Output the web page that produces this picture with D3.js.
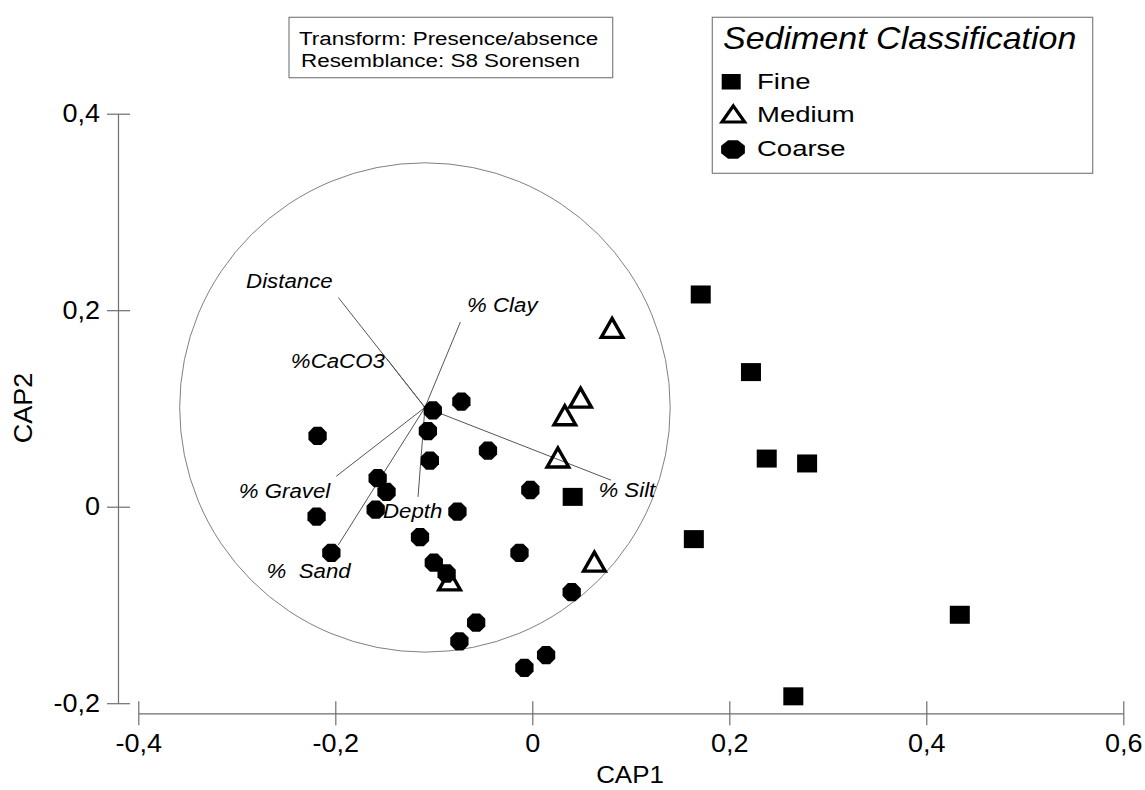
<!DOCTYPE html>
<html>
<head>
<meta charset="utf-8">
<script src="https://cdn.jsdelivr.net/npm/d3@7"></script>
<style>
  body { margin: 0; background: #ffffff; }
  svg { display: block; font-family: "Liberation Sans", Arial, sans-serif; }
</style>
</head>
<body>
<div id="chart"></div>
<script>
// ticks
const xTicks = [-0.4, -0.2, 0, 0.2, 0.4, 0.6];
const yTicks = [-0.2, 0, 0.2, 0.4];

// CAP1, CAP2 scores by sediment class
const fine = [
  [0.171, 0.216], [0.222, 0.137], [0.238, 0.049], [0.279, 0.044],
  [0.041, 0.010], [0.164, -0.033], [0.434, -0.110], [0.265, -0.193]
];
const medium = [
  [0.081, 0.179], [0.049, 0.108], [0.033, 0.090], [0.026, 0.047],
  [0.063, -0.059], [-0.084, -0.078]
];
const coarse = [
  [-0.072, 0.107], [-0.101, 0.098], [-0.106, 0.077], [-0.218, 0.072],
  [-0.045, 0.057], [-0.104, 0.047], [-0.157, 0.029], [-0.148, 0.015],
  [-0.002, 0.017], [-0.159, -0.003], [-0.219, -0.010], [-0.076, -0.005],
  [-0.114, -0.031], [-0.204, -0.047], [-0.013, -0.047], [-0.100, -0.057],
  [-0.087, -0.068], [0.040, -0.087], [-0.057, -0.118], [-0.074, -0.137],
  [0.014, -0.151], [-0.008, -0.164]
];

// environmental vectors (drawn from the circle centre)
const vecOrigin = [-0.109, 0.101];
const circleRadius = 0.249;
const vecNames = ['Distance', '% Clay', '%CaCO3', '% Silt', '% Gravel', '%  Sand', 'Depth'];
const vecEnds = [
  [-0.197, 0.213], [-0.073, 0.188], [-0.148, 0.151], [0.080, 0.027],
  [-0.199, 0.031], [-0.197, -0.039], [-0.116, 0.010]
];

const legendTitle = 'Sediment Classification';
const legendLabels = ['Fine', 'Medium', 'Coarse'];
const infoLines = ['Transform: Presence/absence', 'Resemblance: S8 Sorensen'];

const width = 1145, height = 790;
const axisColor = '#6e6e6e';

const svg = d3.select('#chart').append('svg')
  .attr('width', width).attr('height', height);

const x = d3.scaleLinear().domain([-0.4, 0.6]).range([138.3, 1123.3]);
const y = d3.scaleLinear().domain([-0.2, 0.4]).range([703.2, 113.7]);

const fmt = d3.formatLocale({ decimal: ',', thousands: '.', grouping: [3], currency: ['', ''] }).format('.1f');
const tickFmt = v => v === 0 ? '0' : fmt(v).replace('−', '-');

// helper: text stretched horizontally like the original rendering
function label(g, px, py, str, size, sx, opts = {}) {
  return g.append('text')
    .attr('transform', `translate(${px},${py}) scale(${sx},1)`)
    .attr('font-size', size)
    .attr('font-style', opts.italic ? 'italic' : 'normal')
    .attr('text-anchor', opts.anchor || 'start')
    .style('white-space', 'pre')
    .attr('fill', '#000')
    .text(str);
}

// axes
const gx = svg.append('g')
  .attr('transform', 'translate(0,713.3)')
  .call(d3.axisBottom(x).tickValues(xTicks).tickFormat(tickFmt).tickSize(12).tickSizeOuter(0).tickPadding(9));
gx.selectAll('.tick line').attr('y1', -12);
const gy = svg.append('g')
  .attr('transform', 'translate(118,0)')
  .call(d3.axisLeft(y).tickValues(yTicks).tickFormat(tickFmt).tickSize(11).tickSizeOuter(0).tickPadding(7));
gy.selectAll('.tick line').attr('x1', 12);

[gx, gy].forEach(g => {
  g.select('.domain').attr('stroke', axisColor).attr('stroke-width', 1.2);
  g.selectAll('.tick line').attr('stroke', axisColor).attr('stroke-width', 1.2);
  g.selectAll('.tick text')
    .attr('font-size', 25).attr('fill', '#000')
    .attr('font-family', '"Liberation Sans", Arial, sans-serif')
    .each(function () {
      const t = d3.select(this);
      const tx = +t.attr('x') || 0;
      t.attr('x', 0).attr('transform', `translate(${tx},0) scale(1.08,1)`);
    });
});

label(svg, 630, 783, 'CAP1', 24, 1.08, { anchor: 'middle' });
svg.append('text')
  .attr('transform', 'translate(32,408) rotate(-90) scale(1.08,1)')
  .attr('font-size', 25).attr('text-anchor', 'middle').text('CAP2');

// correlation circle
svg.append('ellipse')
  .attr('cx', x(vecOrigin[0])).attr('cy', y(vecOrigin[1]))
  .attr('rx', x(circleRadius) - x(0)).attr('ry', y(0) - y(circleRadius))
  .attr('fill', 'none').attr('stroke', '#808080').attr('stroke-width', 1);

// vectors
const labelPos = [
  { anchor: 'end', dx: -5.6, dy: -9.4 },
  { anchor: 'start', dx: 6.7, dy: -10 },
  { anchor: 'end', dx: -1.7, dy: 10 },
  { anchor: 'start', dx: -12.7, dy: 16.7 },
  { anchor: 'end', dx: -6, dy: 21.6 },
  { anchor: 'end', dx: 12.4, dy: 33.3 },
  { anchor: 'start', dx: -35, dy: 21.6 }
];
const vg = svg.append('g');
vecEnds.forEach((e, i) => {
  vg.append('line')
    .attr('x1', x(vecOrigin[0])).attr('y1', y(vecOrigin[1]))
    .attr('x2', x(e[0])).attr('y2', y(e[1]))
    .attr('stroke', '#555').attr('stroke-width', 1);
  const p = labelPos[i];
  label(vg, x(e[0]) + p.dx, y(e[1]) + p.dy, vecNames[i], 21, 1.06, { italic: true, anchor: p.anchor });
});

// marker shapes
const triPath = 'M0,-12.5L10.8,6.5L-10.8,6.5Z';
function octagon(r) {
  const pts = d3.range(8).map(i => {
    const a = Math.PI / 8 + i * Math.PI / 4;
    return [r * Math.cos(a), r * Math.sin(a)];
  });
  return 'M' + pts.join('L') + 'Z';
}
const octPath = octagon(9.9);

// points
svg.append('g').selectAll('rect').data(fine).enter().append('rect')
  .attr('x', d => x(d[0]) - 10).attr('y', d => y(d[1]) - 9)
  .attr('width', 20).attr('height', 18).attr('fill', '#000');

svg.append('g').selectAll('path').data(medium).enter().append('path')
  .attr('d', triPath)
  .attr('transform', d => `translate(${x(d[0])},${y(d[1])})`)
  .attr('fill', 'none').attr('stroke', '#000').attr('stroke-width', 3.4);

svg.append('g').selectAll('path').data(coarse).enter().append('path')
  .attr('d', octPath)
  .attr('transform', d => `translate(${x(d[0])},${y(d[1])})`)
  .attr('fill', '#000');

// info box
svg.append('rect').attr('x', 289).attr('y', 17.3).attr('width', 323.7).attr('height', 60.4)
  .attr('fill', '#fff').attr('stroke', '#808080').attr('stroke-width', 1.2);
label(svg, 299, 45, infoLines[0], 19, 1.18);
label(svg, 301, 66.5, infoLines[1], 19, 1.18);

// legend
const lg = svg.append('g');
lg.append('rect').attr('x', 712.3).attr('y', 17.3).attr('width', 380.4).attr('height', 156)
  .attr('fill', '#fff').attr('stroke', '#808080').attr('stroke-width', 1.2);
label(lg, 723, 49, legendTitle, 31.5, 1.08, { italic: true });
lg.append('rect').attr('x', 721.7).attr('y', 74).attr('width', 19).attr('height', 15.5).attr('fill', '#000');
lg.append('path').attr('d', 'M0,-10.5L11.3,5.6L-11.3,5.6Z')
  .attr('transform', 'translate(733.3,116.4)')
  .attr('fill', 'none').attr('stroke', '#000').attr('stroke-width', 3.2);
lg.append('path').attr('d', octPath)
  .attr('transform', 'translate(733,149.5) scale(1.3,1)').attr('fill', '#000');
legendLabels.forEach((t, i) => {
  label(lg, 757, [89.3, 122, 156][i], t, 22, 1.25);
});
</script>
</body>
</html>
